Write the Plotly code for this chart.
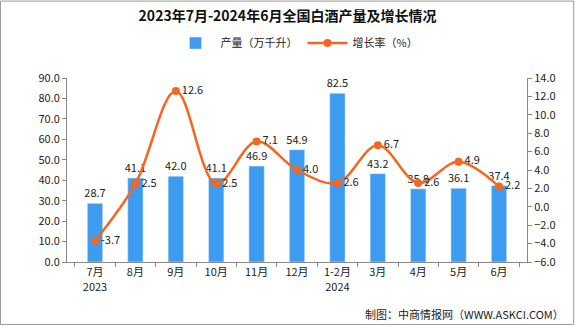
import plotly.graph_objects as go

categories = ["7月<br>2023", "8月", "9月", "10月", "11月", "12月", "1-2月<br>2024", "3月", "4月", "5月", "6月"]
production = [28.7, 41.1, 42.0, 41.1, 46.9, 54.9, 82.5, 43.2, 35.8, 36.1, 37.4]
growth = [-3.7, 2.5, 12.6, 2.5, 7.1, 4.0, 2.6, 6.7, 2.6, 4.9, 2.2]

FONT = "Noto Sans CJK SC"
fig = go.Figure()
fig.add_trace(go.Bar(
    x=categories, y=production, name="产量（万千升）",
    marker=dict(color="#3E9CF0"), width=0.38,
    text=[f"{v:.1f}" for v in production], textposition="outside", constraintext="none",
    textfont=dict(size=11, color="#222", family=FONT), cliponaxis=False,
))
fig.add_trace(go.Scatter(
    x=categories, y=growth, name="增长率（%）", yaxis="y2",
    mode="lines+markers+text", line=dict(color="#F5661E", width=2.5, shape="spline", smoothing=1.0),
    marker=dict(size=8, color="#F5661E"),
    text=[f"{v:.1f}" for v in growth], textposition="middle right",
    textfont=dict(size=11, color="#222", family=FONT), cliponaxis=False,
))

fig.update_layout(
    width=575, height=326, margin=dict(l=67, r=48, t=78, b=64),
    paper_bgcolor="white", plot_bgcolor="white",
    font=dict(family=FONT, size=11, color="#222"),
    title=dict(text="<b>2023年7月-2024年6月全国白酒产量及增长情况</b>", x=0.5, xanchor="center",
               y=0.965, yanchor="top", font=dict(size=14, color="#111", family=FONT)),
    legend=dict(orientation="h", x=0.5, xanchor="center", y=1.19, yanchor="middle",
                font=dict(size=11), itemwidth=40, tracegroupgap=0),
    bargap=0.6, showlegend=True,
    xaxis=dict(showline=True, linecolor="#888", ticks="outside", tickcolor="#888", ticklen=4,
               tickson="boundaries", tickfont=dict(size=11), showgrid=False),
    yaxis=dict(range=[0, 90], dtick=10, tickformat=".1f", showline=True, linecolor="#888",
               ticks="outside", tickcolor="#888", ticklen=4, showgrid=False, zeroline=False,
               tickfont=dict(size=11)),
    yaxis2=dict(range=[-6, 14], dtick=2, tickformat=".1f", overlaying="y", side="right",
                showline=True, linecolor="#888", ticks="outside", tickcolor="#888", ticklen=4,
                showgrid=False, zeroline=False, tickfont=dict(size=11)),
)

fig.add_annotation(text="制图：中商情报网（WWW.ASKCI.COM）", xref="paper", yref="paper",
                   x=1.085, y=-0.28, xanchor="right", yanchor="middle", showarrow=False,
                   font=dict(size=11, color="#222"))
fig.add_shape(type="rect", xref="paper", yref="paper", x0=-0.1446, x1=1.1015, y0=-0.3395, y1=1.418,
              line=dict(color="#999", width=1))

fig.write_html("out.html")
